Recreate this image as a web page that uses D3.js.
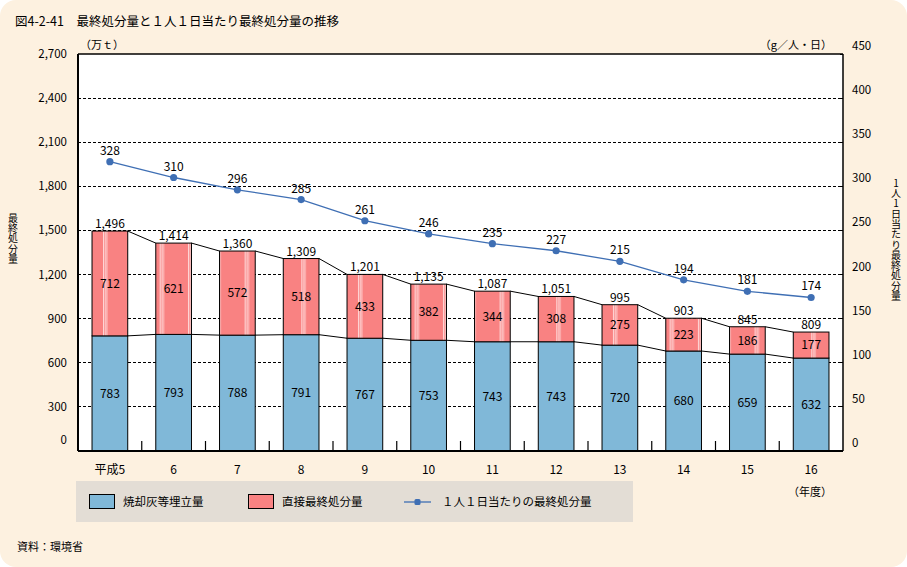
<!DOCTYPE html>
<html><head><meta charset="utf-8">
<script src="https://cdn.jsdelivr.net/npm/d3@7"></script>
<style>
html,body{margin:0;padding:0;background:#fff;}
svg{display:block;font-family:"Noto Sans CJK JP","Noto Sans",sans-serif;}
.vt{writing-mode:vertical-rl;text-orientation:upright;}
</style></head>
<body>
<script>
const years = ["平成5","6","7","8","9","10","11","12","13","14","15","16"];
const burnAsh = [783,793,788,791,767,753,743,743,720,680,659,632];
const directDisposal = [712,621,572,518,433,382,344,308,275,223,186,177];
const totals = [1496,1414,1360,1309,1201,1135,1087,1051,995,903,845,809];
const perCapita = [328,310,296,285,261,246,235,227,215,194,181,174];
const leftTicks = [0,300,600,900,1200,1500,1800,2100,2400,2700];
const rightTicks = [0,50,100,150,200,250,300,350,400,450];

const W = 907, H = 567;
const svg = d3.select("body").append("svg").attr("width", W).attr("height", H);

const blue = "#80b8d8", pink = "#f98282", lineCol = "#3f6fb4", cream = "#fdf1e0";

svg.append("rect").attr("x",0).attr("y",0).attr("width",W).attr("height",H).attr("rx",16).attr("fill",cream);

const defs = svg.append("defs");
const pat = defs.append("pattern").attr("id","stripes").attr("patternUnits","userSpaceOnUse")
  .attr("x",18).attr("y",0).attr("width",28.33).attr("height",10);
pat.append("rect").attr("width",28.33).attr("height",10).attr("fill",pink);
[0,1.7,3.4].forEach(o=>pat.append("rect").attr("x",o).attr("y",0).attr("width",0.9).attr("height",10).attr("fill","#ffdede"));

const L = 78, R = 843, T = 54, B = 451;
const x = d3.scaleBand().domain(years).range([L,R]).paddingInner(0.44).paddingOuter(0.22);
const yL = d3.scaleLinear().domain([0,2700]).range([B,T]);
const yR = d3.scaleLinear().domain([0,450]).range([B,T]);
const bw = x.bandwidth(), step = x.step();

svg.append("rect").attr("x",L).attr("y",T).attr("width",R-L).attr("height",B-T).attr("fill","#fff");

svg.append("g").selectAll("line").data(leftTicks.filter(v=>v>0 && v<2700)).join("line")
  .attr("x1",L).attr("x2",R).attr("y1",d=>yL(d)).attr("y2",d=>yL(d))
  .attr("stroke","#000").attr("stroke-width",1).attr("stroke-dasharray","3,2").attr("shape-rendering","crispEdges");

svg.append("text").attr("x",15).attr("y",26).attr("font-size",12.5).attr("fill","#000")
  .text("図4-2-41　最終処分量と１人１日当たり最終処分量の推移");

svg.append("text").attr("x",80).attr("y",49).attr("font-size",11).text("（万ｔ）");
svg.append("text").attr("x",832).attr("y",49).attr("font-size",11).attr("text-anchor","end").text("（g／人・日）");

svg.append("g").selectAll("text").data(leftTicks).join("text")
  .attr("x",67).attr("y",d=> d===0 ? yL(d)-11 : yL(d)).attr("dy","0.35em")
  .attr("text-anchor","end").attr("font-size",11.5).text(d=>d3.format(",")(d));

svg.append("g").selectAll("text").data(rightTicks).join("text")
  .attr("x",852).attr("y",d=>yR(d)-8).attr("dy","0.35em")
  .attr("font-size",11.5).text(d=>d);
svg.append("g").selectAll("line").data(rightTicks).join("line")
  .attr("x1",R-3).attr("x2",R).attr("y1",d=>yR(d)).attr("y2",d=>yR(d)).attr("stroke","#000").attr("shape-rendering","crispEdges");

// vertical axis titles
svg.append("text").attr("class","vt").attr("x",13).attr("y",213).attr("font-size",10)
  .attr("letter-spacing","0.3").text("最終処分量");
svg.append("text").attr("class","vt").attr("x",896).attr("y",178).attr("font-size",10)
  .attr("letter-spacing","0.3").text("1人1日当たり最終処分量");

const idx = d3.range(years.length);
svg.append("g").selectAll("rect").data(idx).join("rect")
  .attr("x",i=>x(years[i])).attr("width",bw)
  .attr("y",i=>yL(burnAsh[i])).attr("height",i=>yL(0)-yL(burnAsh[i]))
  .attr("fill",blue).attr("stroke","#000").attr("stroke-width",1);
svg.append("g").selectAll("rect").data(idx).join("rect")
  .attr("x",i=>x(years[i])).attr("width",bw)
  .attr("y",i=>yL(totals[i])).attr("height",i=>yL(burnAsh[i])-yL(totals[i]))
  .attr("fill","url(#stripes)").attr("stroke","#000").attr("stroke-width",1);

const conn = svg.append("g").attr("stroke","#000").attr("stroke-width",1);
idx.slice(0,-1).forEach(i=>{
  conn.append("line").attr("x1",x(years[i])+bw).attr("x2",x(years[i+1]))
    .attr("y1",yL(totals[i])).attr("y2",yL(totals[i+1]));
  conn.append("line").attr("x1",x(years[i])+bw).attr("x2",x(years[i+1]))
    .attr("y1",yL(burnAsh[i])).attr("y2",yL(burnAsh[i+1]));
});

svg.append("g").selectAll("line").data(idx.slice(0,-1)).join("line")
  .attr("x1",i=>x(years[i])+bw+(step-bw)/2).attr("x2",i=>x(years[i])+bw+(step-bw)/2)
  .attr("y1",B).attr("y2",B-10).attr("stroke","#000").attr("stroke-width",1.2);

svg.append("line").attr("x1",L).attr("x2",R).attr("y1",T).attr("y2",T).attr("stroke","#000").attr("stroke-width",1.5);
svg.append("line").attr("x1",L).attr("x2",R).attr("y1",B).attr("y2",B).attr("stroke","#000").attr("stroke-width",2);
svg.append("line").attr("x1",L).attr("x2",L).attr("y1",T).attr("y2",B).attr("stroke","#000").attr("stroke-width",2);
svg.append("line").attr("x1",R).attr("x2",R).attr("y1",T).attr("y2",B).attr("stroke","#000").attr("stroke-width",1.5);

const fmt = d3.format(",");
const lbl = svg.append("g").attr("font-size",12).attr("text-anchor","middle");
idx.forEach(i=>{
  const cx = x(years[i])+bw/2;
  lbl.append("text").attr("x",cx).attr("y",(yL(0)+yL(burnAsh[i]))/2).attr("dy","0.35em").text(burnAsh[i]);
  lbl.append("text").attr("x",cx).attr("y",(yL(burnAsh[i])+yL(totals[i]))/2).attr("dy","0.35em").text(directDisposal[i]);
  lbl.append("text").attr("x",cx).attr("y",yL(totals[i])-3).text(fmt(totals[i]));
});

const line = d3.line().x((d,i)=>x(years[i])+bw/2).y(d=>yR(d));
svg.append("path").datum(perCapita).attr("d",line).attr("fill","none").attr("stroke",lineCol).attr("stroke-width",1.3);
svg.append("g").selectAll("circle").data(perCapita).join("circle")
  .attr("cx",(d,i)=>x(years[i])+bw/2).attr("cy",d=>yR(d)).attr("r",3.6).attr("fill",lineCol);
svg.append("g").attr("font-size",12).attr("text-anchor","middle").selectAll("text").data(perCapita).join("text")
  .attr("x",(d,i)=>x(years[i])+bw/2).attr("y",d=>yR(d)-7).text(d=>d);

svg.append("g").attr("font-size",12).attr("text-anchor","middle").selectAll("text").data(years).join("text")
  .attr("x",d=>x(d)+bw/2).attr("y",470).attr("dy","0.35em").text(d=>d);
svg.append("text").attr("x",832).attr("y",492).attr("dy","0.35em").attr("text-anchor","end").attr("font-size",11).text("（年度）");

svg.append("rect").attr("x",76).attr("y",481).attr("width",557).attr("height",41).attr("fill","#e3ddd5");
svg.append("rect").attr("x",89.5).attr("y",494.5).attr("width",25).attr("height",14).attr("fill",blue).attr("stroke","#000");
svg.append("text").attr("x",123).attr("y",502).attr("dy","0.35em").attr("font-size",11.5).text("焼却灰等埋立量");
svg.append("rect").attr("x",248.5).attr("y",494.5).attr("width",25).attr("height",14).attr("fill","url(#stripes)").attr("stroke","#000");
svg.append("text").attr("x",282).attr("y",502).attr("dy","0.35em").attr("font-size",11.5).text("直接最終処分量");
svg.append("line").attr("x1",404).attr("x2",431).attr("y1",502).attr("y2",502).attr("stroke",lineCol).attr("stroke-width",1.3);
svg.append("rect").attr("x",414.5).attr("y",499).attr("width",6).attr("height",6).attr("rx",1.5).attr("fill",lineCol);
svg.append("text").attr("x",442).attr("y",502).attr("dy","0.35em").attr("font-size",11.5).text("１人１日当たりの最終処分量");

svg.append("text").attr("x",17).attr("y",547).attr("dy","0.35em").attr("font-size",11).text("資料：環境省");
</script>
</body></html>
